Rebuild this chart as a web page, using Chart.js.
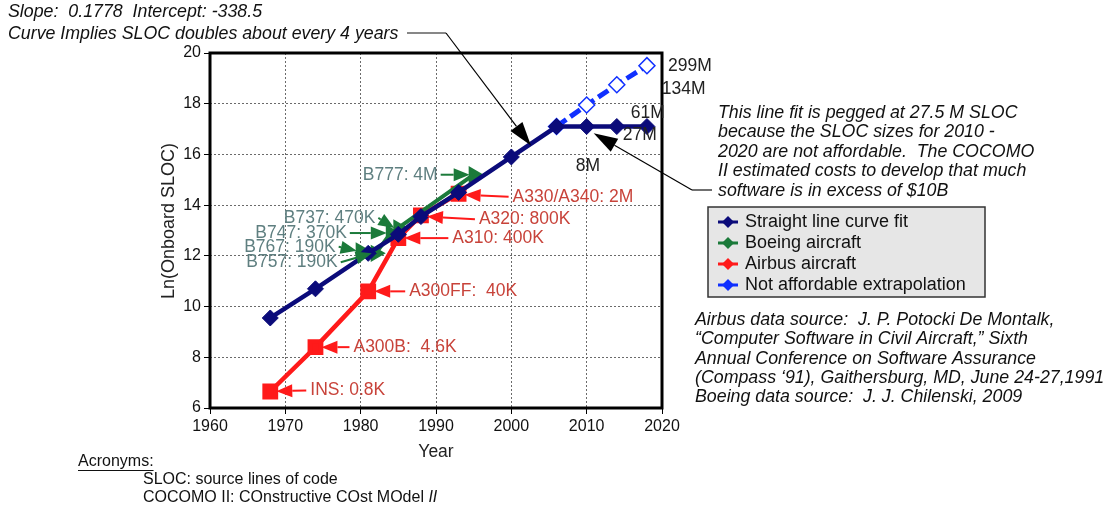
<!DOCTYPE html>
<html><head><meta charset="utf-8">
<script src="https://cdn.jsdelivr.net/npm/chart.js@4/dist/chart.umd.min.js"></script>
<style>html,body{margin:0;padding:0;background:#fff}#wrap{width:1110px;height:507px;position:relative}</style>
</head><body><div id="wrap"><canvas id="c"></canvas></div>
<script>
// ---- data ----
const fitYears = [1968, 1974, 1981, 1985, 1988, 1993, 2000, 2006, 2010, 2014, 2018];
const fitValues = [9.55, 10.7, 12.1, 12.85, 13.55, 14.5, 15.9, 17.1, 17.1, 17.1, 17.1];
const boeingYears = [1980, 1982, 1984, 1985, 1995];
const boeingValues = [12.2, 12.1, 12.9, 13.1, 15.2];
const airbusYears = [1968, 1974, 1981, 1985, 1988, 1993];
const airbusValues = [6.65, 8.4, 10.6, 12.7, 13.6, 14.45];
const extrapYears = [2006, 2010, 2014, 2018];
const extrapValues = [17.1, 17.95, 18.75, 19.5];
const seriesNames = ['Straight line curve fit', 'Boeing aircraft', 'Airbus aircraft', 'Not affordable extrapolation'];
const xTicks = [1960, 1970, 1980, 1990, 2000, 2010, 2020];
const yTicks = [6, 8, 10, 12, 14, 16, 18, 20];
const boeingLabels = ['B767: 190K', 'B757: 190K', 'B747: 370K', 'B737: 470K', 'B777: 4M'];
const airbusLabels = ['INS: 0.8K', 'A300B:  4.6K', 'A300FF:  40K', 'A310: 400K', 'A320: 800K', 'A330/A340: 2M'];
const sizeLabels = ['8M', '27M', '61M', '134M', '299M'];

const NAVY = '#0b0b7a', GREEN = '#1b7a3a', RED = '#ff1a1a', BLUE = '#1030ff';
const BTEXT = '#5f7f80', ATEXT = '#c8433a';
const FF = '"Liberation Sans", Arial, sans-serif';
const pts = (xs, ys) => xs.map((x, i) => ({x, y: ys[i]}));

function arrow(ctx, x1, y1, x2, y2, color, hl, hw, lw) {
  const a = Math.atan2(y2 - y1, x2 - x1);
  const bx = x2 - hl * Math.cos(a), by = y2 - hl * Math.sin(a);
  ctx.save();
  ctx.strokeStyle = color; ctx.fillStyle = color; ctx.lineWidth = lw;
  ctx.beginPath(); ctx.moveTo(x1, y1); ctx.lineTo(bx, by); ctx.stroke();
  ctx.beginPath(); ctx.moveTo(x2, y2);
  ctx.lineTo(bx + hw / 2 * Math.sin(a), by - hw / 2 * Math.cos(a));
  ctx.lineTo(bx - hw / 2 * Math.sin(a), by + hw / 2 * Math.cos(a));
  ctx.closePath(); ctx.fill();
  ctx.restore();
}

const overlay = {
  id: 'overlay',
  beforeDatasetsDraw(chart) {
    const {ctx, chartArea: a} = chart;
    ctx.save();
    ctx.strokeStyle = '#000'; ctx.lineWidth = 3;
    ctx.strokeRect(a.left, a.top, a.right - a.left, a.bottom - a.top);
    ctx.restore();
  },
  afterDatasetsDraw(chart) {
    const {ctx, chartArea: a} = chart;
    const xs = chart.scales.x, ys = chart.scales.y;
    const P = (x, y) => [xs.getPixelForValue(x), ys.getPixelForValue(y)];
    ctx.save();
    ctx.textBaseline = 'middle';
    ctx.font = '17.5px ' + FF;
    // Airbus labels (text to the right of point)
    const aOff = [[40, -1], [38, 0], [41, 0], [54, 0], [58, 4], [54, 3]];
    airbusLabels.forEach((t, i) => {
      const [px, py] = P(airbusYears[i], airbusValues[i]);
      const tx = px + aOff[i][0], ty = py + aOff[i][1];
      arrow(ctx, tx - 4, ty, px + 6, py + aOff[i][1] * 0.3, RED, 16, 13, 2);
      ctx.fillStyle = ATEXT; ctx.textAlign = 'left';
      ctx.fillText(t, tx, ty);
    });
    // Boeing labels (text to the left)
    const bOff = [[-25, -4], [-38, 9], [-44, 0], [-23, -10], [-36, 0]];
    boeingLabels.forEach((t, i) => {
      const [px, py] = P(boeingYears[i], boeingValues[i]);
      const tx = px + bOff[i][0], ty = py + bOff[i][1];
      arrow(ctx, tx + 3, ty, px - 4, py, GREEN, 16, 13, 2);
      ctx.fillStyle = BTEXT; ctx.textAlign = 'right';
      ctx.fillText(t, tx, ty);
    });
    // size labels
    ctx.fillStyle = '#222'; ctx.textAlign = 'left';
    const sRef = [P(fitYears[8], fitValues[8]), P(fitYears[9], fitValues[9]), P(fitYears[9], fitValues[9]), P(extrapYears[2], extrapValues[2]), P(extrapYears[3], extrapValues[3])];
    const sOff = [[-11, 40], [6, 9], [14, -13], [45, 4], [21, 0]];
    sizeLabels.forEach((t, i) => ctx.fillText(t, sRef[i][0] + sOff[i][0], sRef[i][1] + sOff[i][1]));

    // Top-left italic notes
    ctx.font = 'italic 17.8px ' + FF;
    ctx.fillStyle = '#111';
    ctx.fillText('Slope:  0.1778  Intercept: -338.5', 8, 12);
    ctx.fillText('Curve Implies SLOC doubles about every 4 years', 8, 34);
    // black arrow 1 (to fit line ~2003)
    ctx.strokeStyle = '#111'; ctx.lineWidth = 1.2;
    ctx.beginPath(); ctx.moveTo(407, 33); ctx.lineTo(446, 33); ctx.stroke();
    const [t1x, t1y] = P(2002.6, 16.35);
    arrow(ctx, 446, 33, t1x, t1y, '#000', 24, 15, 1.2);
    // Right notes
    const notes = ['This line fit is pegged at 27.5 M SLOC', 'because the SLOC sizes for 2010 -', '2020 are not affordable.  The COCOMO', 'II estimated costs to develop that much', 'software is in excess of $10B'];
    notes.forEach((t, i) => ctx.fillText(t, 718, 113 + i * 19.5));
    ctx.beginPath(); ctx.moveTo(712, 190); ctx.lineTo(692, 190); ctx.stroke();
    const [t2x, t2y] = P(2010.4, 16.95);
    arrow(ctx, 692, 190, t2x + 4, t2y + 3, '#000', 24, 15, 1.2);

    // Sources
    const src = ['Airbus data source:  J. P. Potocki De Montalk,', '\u201CComputer Software in Civil Aircraft,\u201D Sixth', 'Annual Conference on Software Assurance', '(Compass \u201891), Gaithersburg, MD, June 24-27,1991', 'Boeing data source:  J. J. Chilenski, 2009'];
    src.forEach((t, i) => ctx.fillText(t, 695, 320 + i * 19.3));

    // Legend
    ctx.fillStyle = '#e6e6e6'; ctx.fillRect(708, 207, 277, 90);
    ctx.strokeStyle = '#333'; ctx.lineWidth = 1.5; ctx.strokeRect(708, 207, 277, 90);
    const lc = [NAVY, GREEN, RED, BLUE];
    ctx.font = '18px ' + FF;
    seriesNames.forEach((t, i) => {
      const y = 222 + i * 21;
      ctx.strokeStyle = lc[i]; ctx.lineWidth = 3;
      ctx.beginPath(); ctx.moveTo(718, y); ctx.lineTo(738, y); ctx.stroke();
      ctx.fillStyle = lc[i];
      ctx.beginPath(); ctx.moveTo(728, y - 6); ctx.lineTo(734, y); ctx.lineTo(728, y + 6); ctx.lineTo(722, y); ctx.closePath(); ctx.fill();
      ctx.fillStyle = '#111'; ctx.textAlign = 'left';
      ctx.fillText(t, 745, y);
    });

    // Axis titles
    ctx.fillStyle = '#222'; ctx.textAlign = 'center';
    ctx.font = '17.5px ' + FF;
    ctx.fillText('Year', (a.left + a.right) / 2, 452);
    ctx.font = '18px ' + FF;
    ctx.save(); ctx.translate(169, 221); ctx.rotate(-Math.PI / 2);
    ctx.fillText('Ln(Onboard SLOC)', 0, 0); ctx.restore();

    // Acronyms
    ctx.textAlign = 'left'; ctx.font = '16px ' + FF; ctx.fillStyle = '#111';
    ctx.fillText('Acronyms:', 78, 462);
    const w = ctx.measureText('Acronyms:').width;
    ctx.strokeStyle = '#111'; ctx.lineWidth = 1;
    ctx.beginPath(); ctx.moveTo(78, 470.5); ctx.lineTo(78 + w, 470.5); ctx.stroke();
    ctx.fillText('SLOC: source lines of code', 143, 480);
    ctx.fillText('COCOMO II: COnstructive COst MOdel ', 143, 498);
    const w2 = ctx.measureText('COCOMO II: COnstructive COst MOdel ').width;
    ctx.font = 'italic 16px ' + FF;
    ctx.fillText('II', 143 + w2, 498);
    ctx.restore();
  }
};

new Chart(document.getElementById('c'), {
  type: 'scatter',
  data: {
    datasets: [
      {label: seriesNames[0], data: pts(fitYears, fitValues), showLine: true, borderColor: NAVY, backgroundColor: NAVY, borderWidth: 4.5, pointStyle: 'rectRot', pointRadius: 8, pointBorderWidth: 1},
      {label: seriesNames[1], data: pts(boeingYears, boeingValues), showLine: true, borderColor: GREEN, backgroundColor: GREEN, borderWidth: 4, pointStyle: 'triangle', pointRotation: 90, pointRadius: 6},
      {label: seriesNames[2], data: pts(airbusYears, airbusValues), showLine: true, borderColor: RED, backgroundColor: RED, borderWidth: 4.5, pointStyle: 'rect', pointRadius: 8},
      {label: seriesNames[3], data: pts(extrapYears, extrapValues), showLine: true, borderColor: BLUE, backgroundColor: '#fff', borderWidth: 5, borderDash: [12, 5], pointStyle: 'rectRot', pointRadius: 8, pointBorderWidth: 1.5}
    ]
  },
  options: {
    responsive: true, maintainAspectRatio: false, animation: false,
    layout: {padding: {top: 53, right: 448, left: 0, bottom: 0}},
    plugins: {legend: {display: false}, tooltip: {enabled: false}},
    scales: {
      x: {type: 'linear', min: xTicks[0], max: xTicks[xTicks.length - 1],
        afterBuildTicks: s => { s.ticks = xTicks.map(v => ({value: v})); },
        afterFit: s => { s.height = 99; },
        ticks: {callback: v => String(v), color: '#111', font: {size: 16, family: FF}, padding: 3},
        grid: {color: '#6a6a6a', tickColor: '#000', tickLength: 6, lineWidth: 1},
        border: {display: false, dash: [2, 2]}},
      y: {min: yTicks[0], max: yTicks[yTicks.length - 1],
        afterBuildTicks: s => { s.ticks = yTicks.map(v => ({value: v})); },
        afterFit: s => { s.width = 210; },
        ticks: {callback: v => String(v), color: '#111', font: {size: 16, family: FF}, padding: 3},
        grid: {color: '#6a6a6a', tickColor: '#000', tickLength: 6, lineWidth: 1},
        border: {display: false, dash: [2, 2]}}
    }
  },
  plugins: [overlay]
});
</script></body></html>
